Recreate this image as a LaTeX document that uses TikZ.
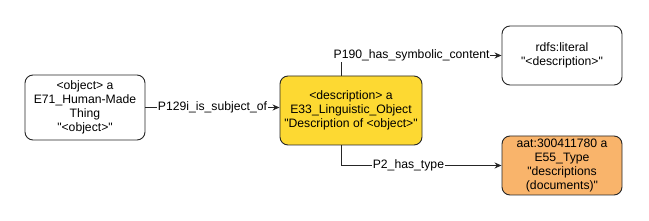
\documentclass[tikz,border=0pt]{standalone}
\usepackage{fontspec}
\setmainfont{Liberation Sans}[Ligatures=TeXOff]
\usetikzlibrary{arrows.meta}

\definecolor{descyellow}{HTML}{FDD932}
\definecolor{typeorange}{HTML}{F9B46B}

\tikzset{
	entity/.style={draw=black!85,line width=0.9pt,rounded corners=8pt,fill=white,
		align=center,inner sep=1pt,font=\fontsize{12.2}{14.2}\selectfont},
	link/.style={draw=black!85,line width=0.9pt,-{Stealth[length=7pt,width=6pt]}},
	lbl/.style={fill=white,inner sep=0.5pt,font=\fontsize{12.2}{13}\selectfont}
}

\begin{document}
\begin{tikzpicture}[x=1pt,y=-1pt]
		\useasboundingbox (0,0) rectangle (649,221);

		% >>> entities
		\node[entity,minimum width=120pt,minimum height=65pt] (object) at (85,107.5)
			{<object> a\\E71\_Human-Made\\Thing\\"<object>"};
		\node[entity,fill=descyellow,minimum width=142pt,minimum height=69pt] (description) at (351,110.5)
			{<description> a\\E33\_Linguistic\_Object\\"Description of <object>"};
		\node[entity,minimum width=120pt,minimum height=59pt] (literal) at (562,55.5)
			{rdfs:literal\\"<description>"};
		\node[entity,fill=typeorange,minimum width=120pt,minimum height=59pt] (type) at (562,165.5)
			{aat:300411780 a\\E55\_Type\\"descriptions\\(documents)"};
		% <<< entities

		% >>> properties
		\draw[link] (object.east) -- node[lbl] {P129i\_is\_subject\_of} (object.east -| description.west);
		\draw[link] ([xshift=-10pt]description.north) |- node[lbl,pos=0.72] {P190\_has\_symbolic\_content} (literal.west);
		\draw[link] ([xshift=-10pt]description.south) |- node[lbl,pos=0.71] {P2\_has\_type} (type.west);
		% <<< properties
\end{tikzpicture}
\end{document}
